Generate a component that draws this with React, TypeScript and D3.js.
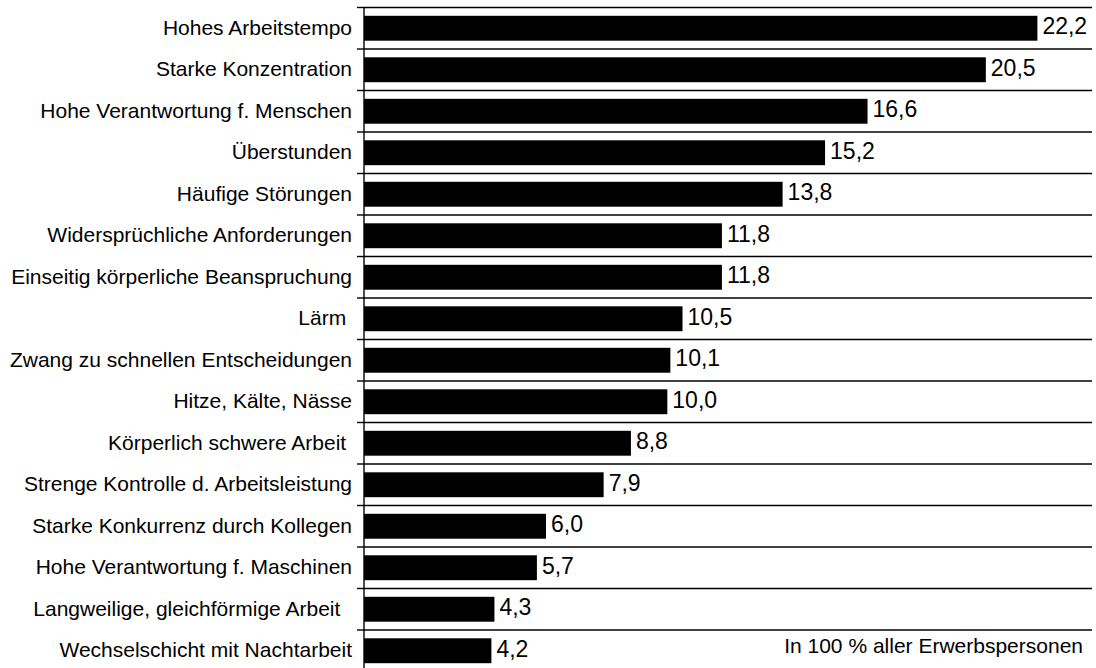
import React from "react";
import * as d3 from "d3";

const categories = [
  "Hohes Arbeitstempo",
  "Starke Konzentration",
  "Hohe Verantwortung f. Menschen",
  "Überstunden",
  "Häufige Störungen",
  "Widersprüchliche Anforderungen",
  "Einseitig körperliche Beanspruchung",
  "Lärm ",
  "Zwang zu schnellen Entscheidungen",
  "Hitze, Kälte, Nässe",
  "Körperlich schwere Arbeit ",
  "Strenge Kontrolle d. Arbeitsleistung",
  "Starke Konkurrenz durch Kollegen",
  "Hohe Verantwortung f. Maschinen",
  "Langweilige, gleichförmige Arbeit  ",
  "Wechselschicht mit Nachtarbeit",
];
const values = [22.2, 20.5, 16.6, 15.2, 13.8, 11.8, 11.8, 10.5, 10.1, 10.0, 8.8, 7.9, 6.0, 5.7, 4.3, 4.2];
const xDomain = [0, 24];
const footnote = "In 100 % aller Erwerbspersonen";

const W = 1096;
const H = 668;
const left = 364;
const right = 1092;
const top = 7.5;
const band = 41.5;

export default function App() {
  const x = d3.scaleLinear().domain(xDomain).range([left, right]);
  const y = d3
    .scaleBand<string>()
    .domain(categories)
    .range([top, top + band * categories.length])
    .paddingInner(0.4)
    .paddingOuter(0.2);
  const boundaries = d3.range(categories.length + 1).map((i) => top + i * y.step());
  const font = "'Liberation Sans', Arial, sans-serif";
  const fmt = (v: number) => v.toFixed(1).replace(".", ",");

  return (
    <svg
      width={W}
      height={H}
      style={{ position: "absolute", left: 0, top: 0, background: "#fff" }}
      fontFamily={font}
    >
      {boundaries.map((b, i) => (
        <g key={"g" + i}>
          <line x1={left} x2={right} y1={b} y2={b} stroke="#000" strokeWidth={1.4} />
          <line x1={left - 7} x2={left} y1={b} y2={b} stroke="#000" strokeWidth={1.4} />
        </g>
      ))}
      {categories.map((c, i) => {
        const yc = (y(c) as number) + y.bandwidth() / 2;
        return (
          <g key={c}>
            <rect
              x={x(0)}
              y={y(c)}
              width={x(values[i]) - x(0)}
              height={y.bandwidth()}
              fill="#000"
            />
            <text
              x={352}
              y={yc + 6.5}
              textAnchor="end"
              fontSize={21}
              fill="#000"
              style={{ whiteSpace: "pre" }}
            >
              {c}
            </text>
            <text x={x(values[i]) + 5} y={yc + 6} fontSize={23} fill="#000">
              {fmt(values[i])}
            </text>
          </g>
        );
      })}
      <line x1={left} x2={left} y1={top} y2={H} stroke="#000" strokeWidth={1.4} />
      <text x={1083} y={653} textAnchor="end" fontSize={21} fill="#000">
        {footnote}
      </text>
    </svg>
  );
}
